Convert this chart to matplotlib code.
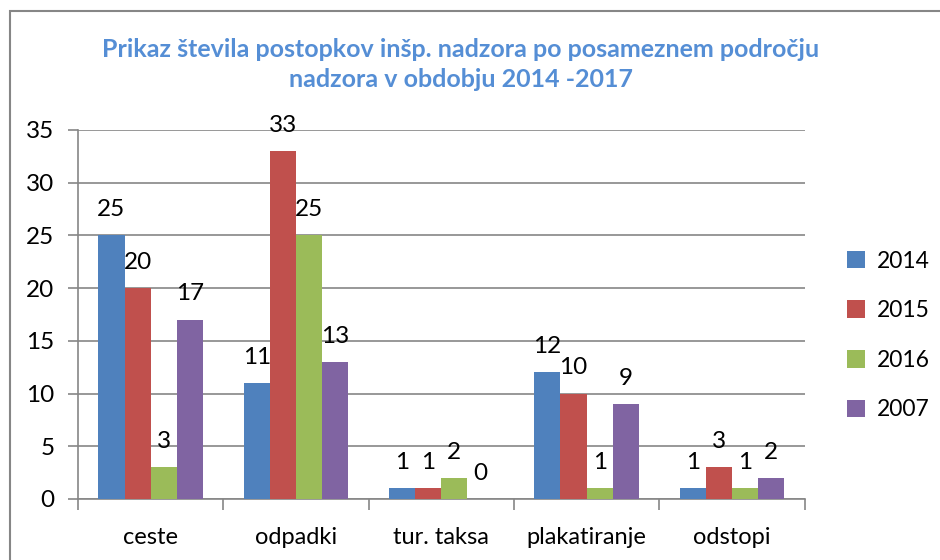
import numpy as np
from matplotlib import pyplot as plt
from matplotlib.patches import Rectangle

categories = ['ceste', 'odpadki', 'tur. taksa', 'plakatiranje', 'odstopi']
years = ['2014', '2015', '2016', '2007']
values_2014 = [25, 11, 1, 12, 1]
values_2015 = [20, 33, 1, 10, 3]
values_2016 = [3, 25, 2, 1, 1]
values_2007 = [17, 13, 0, 9, 2]
colors = ['#4F81BD', '#C0504D', '#9BBB59', '#8064A2']

series = [values_2014, values_2015, values_2016, values_2007]

plt.rcParams['font.family'] = ['Lato', 'DejaVu Sans']
grey = '#868686'

fig = plt.figure(figsize=(9.4, 5.6), dpi=100)
ax = fig.add_axes([0.083, 0.109, 0.773, 0.659])

# chart border (cut at right and bottom like the screenshot)
fig.patches.append(Rectangle((10 / 940, -0.1), 1.2, 1 - 11 / 560 + 0.1,
                             transform=fig.transFigure, fill=False,
                             edgecolor=grey, linewidth=1.5))

x = np.arange(len(categories))
width = 0.18
for i in range(len(years)):
    offs = (i - 1.5) * width
    ax.bar(x + offs, series[i], width, color=colors[i], label=years[i], zorder=3)
    for xb, v in zip(x + offs, series[i]):
        ax.annotate(str(v), (xb, v), xytext=(0, 11), textcoords='offset points',
                    ha='center', va='bottom', fontsize=17.5, color='black')

ax.set_xlim(-0.5, len(categories) - 0.5)
ax.set_ylim(0, 35)
ax.set_yticks(range(0, 36, 5))
ax.yaxis.grid(True, color=grey, linewidth=1.2, zorder=0)
ax.set_xticks(x)
ax.set_xticklabels(categories)
ax.set_xticks(np.arange(-0.5, len(categories)), minor=True)
ax.tick_params(axis='x', which='major', length=0, pad=20, labelsize=17)
ax.tick_params(axis='x', which='minor', length=8, color=grey, width=1.2)
ax.tick_params(axis='y', length=7, color=grey, width=1.2, labelsize=17.5, pad=10)
for s in ['top', 'right']:
    ax.spines[s].set_visible(False)
for s in ['left', 'bottom']:
    ax.spines[s].set_color(grey)
    ax.spines[s].set_linewidth(1.2)

fig.text(0.49, 0.885, 'Prikaz števila postopkov inšp. nadzora po posameznem področju\nnadzora v obdobju 2014 -2017',
         ha='center', va='center', fontsize=18, fontweight='bold',
         color='#558ED5', linespacing=1.35)

ax.legend(loc='center left', bbox_to_anchor=(1.03, 0.243, 0.2, 0.4),
          frameon=False, fontsize=16.5, handlelength=0.8, handleheight=0.8,
          labelspacing=1.25, handletextpad=0.5)

fig.savefig('out.png', dpi=100)
